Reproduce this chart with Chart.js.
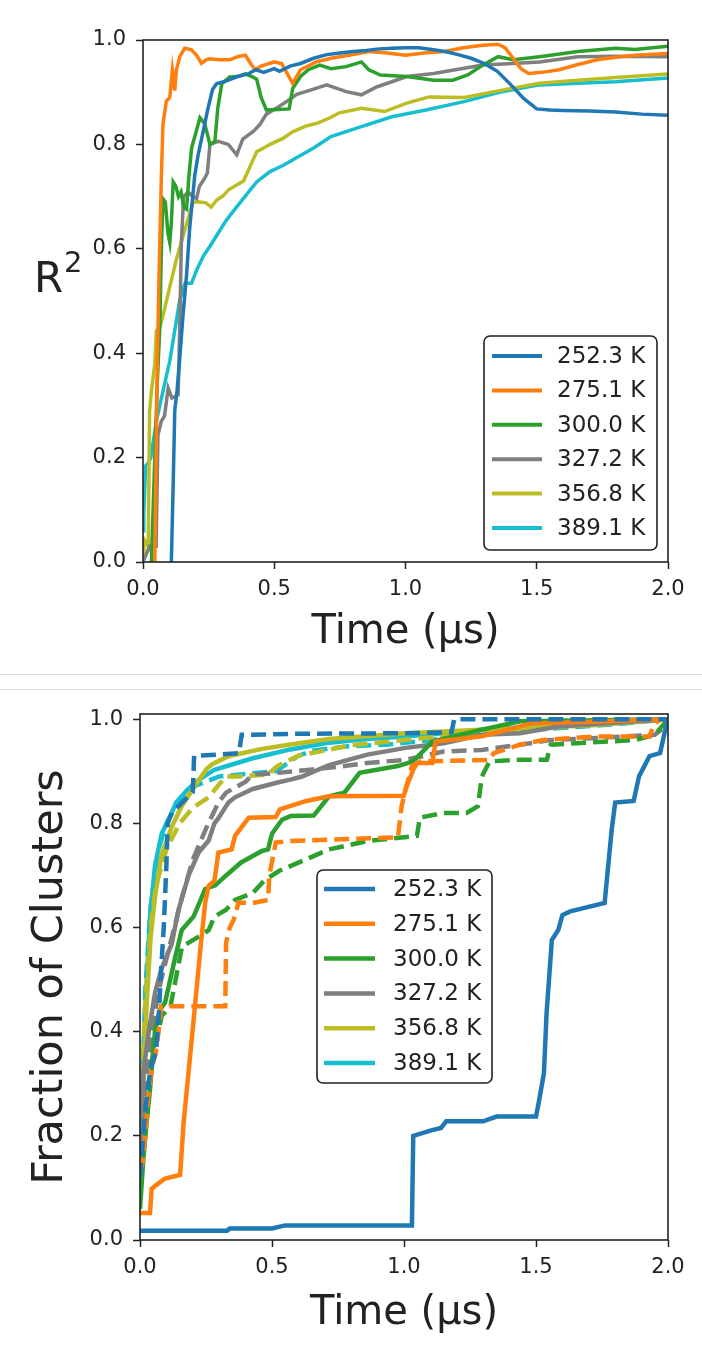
<!DOCTYPE html>
<html>
<head>
<meta charset="utf-8">
<script src="https://cdn.jsdelivr.net/npm/chart.js@4/dist/chart.umd.min.js"></script>
<style>
  body { margin: 0; background: #fff; width: 702px; height: 1350px; overflow: hidden; position: relative; }
  canvas { position: absolute; left: 0; }
  #top { top: 0; }
  #bottom { top: 690px; }
  .sep { position: absolute; left: 0; width: 702px; height: 1px; background: #dcdcdc; }
</style>
</head>
<body>
<canvas id="top" width="702" height="670" style="width:702px;height:670px"></canvas>
<div class="sep" style="top:674px"></div>
<div class="sep" style="top:689px"></div>
<canvas id="bottom" width="702" height="660" style="width:702px;height:660px"></canvas>
<script>
// temperatures, one line per temperature in each panel
var temps = ['252.3 K', '275.1 K', '300.0 K', '327.2 K', '356.8 K', '389.1 K'];
var xTicks = [0, 0.5, 1.0, 1.5, 2.0];
var yTicks = [0, 0.2, 0.4, 0.6, 0.8, 1.0];

// top panel: R^2 vs time, [time (us), R2]
var r2_252 = [[0.108,0],[0.115,0.15],[0.121,0.29],[0.13,0.33],[0.14,0.39],[0.152,0.47],[0.166,0.55],[0.178,0.64],[0.197,0.74],[0.21,0.78],[0.223,0.81],[0.248,0.87],[0.265,0.905],[0.28,0.916],[0.32,0.922],[0.36,0.93],[0.4,0.935],[0.43,0.943],[0.46,0.938],[0.5,0.945],[0.52,0.94],[0.56,0.95],[0.6,0.955],[0.65,0.965],[0.7,0.972],[0.75,0.975],[0.8,0.978],[0.85,0.98],[0.9,0.983],[0.95,0.984],[1.0,0.985],[1.05,0.985],[1.1,0.982],[1.15,0.978],[1.2,0.972],[1.25,0.965],[1.3,0.955],[1.35,0.94],[1.4,0.915],[1.45,0.888],[1.5,0.868],[1.55,0.866],[1.6,0.865],[1.7,0.864],[1.8,0.862],[1.9,0.858],[2.0,0.856]];
var r2_275 = [[0.045,0],[0.05,0.2],[0.055,0.4],[0.061,0.547],[0.07,0.74],[0.076,0.838],[0.089,0.883],[0.102,0.89],[0.112,0.942],[0.121,0.903],[0.127,0.942],[0.14,0.968],[0.159,0.984],[0.185,0.981],[0.205,0.97],[0.223,0.955],[0.24,0.962],[0.255,0.964],[0.29,0.962],[0.33,0.962],[0.36,0.968],[0.39,0.971],[0.41,0.955],[0.427,0.943],[0.45,0.95],[0.5,0.958],[0.528,0.955],[0.55,0.935],[0.57,0.917],[0.6,0.943],[0.66,0.958],[0.716,0.965],[0.8,0.972],[0.86,0.978],[0.93,0.975],[1.0,0.971],[1.07,0.975],[1.15,0.978],[1.22,0.985],[1.295,0.99],[1.353,0.992],[1.38,0.985],[1.41,0.965],[1.44,0.945],[1.469,0.936],[1.52,0.938],[1.585,0.943],[1.65,0.952],[1.73,0.962],[1.8,0.967],[1.874,0.971],[2.0,0.974]];
var r2_300 = [[0.032,0],[0.045,0.2],[0.055,0.35],[0.064,0.45],[0.07,0.6],[0.076,0.696],[0.085,0.69],[0.095,0.63],[0.102,0.612],[0.108,0.65],[0.115,0.728],[0.125,0.72],[0.135,0.7],[0.145,0.709],[0.155,0.68],[0.166,0.676],[0.175,0.74],[0.185,0.793],[0.2,0.82],[0.217,0.851],[0.235,0.84],[0.255,0.8],[0.274,0.806],[0.285,0.87],[0.3,0.916],[0.33,0.929],[0.36,0.93],[0.39,0.935],[0.415,0.93],[0.433,0.925],[0.45,0.89],[0.47,0.866],[0.514,0.867],[0.557,0.868],[0.57,0.907],[0.6,0.93],[0.63,0.943],[0.673,0.952],[0.716,0.945],[0.774,0.949],[0.832,0.958],[0.86,0.943],[0.904,0.933],[1.005,0.93],[1.107,0.923],[1.18,0.923],[1.237,0.933],[1.295,0.952],[1.353,0.968],[1.41,0.962],[1.51,0.968],[1.657,0.978],[1.8,0.984],[1.874,0.982],[2.0,0.988]];
var r2_327 = [[0.0,0.0],[0.025,0.03],[0.05,0.03],[0.057,0.243],[0.07,0.27],[0.082,0.28],[0.096,0.333],[0.11,0.314],[0.134,0.32],[0.14,0.45],[0.146,0.61],[0.155,0.70],[0.172,0.709],[0.19,0.70],[0.204,0.696],[0.215,0.72],[0.235,0.735],[0.245,0.745],[0.255,0.80],[0.287,0.806],[0.325,0.80],[0.357,0.78],[0.38,0.81],[0.42,0.825],[0.445,0.838],[0.47,0.858],[0.51,0.87],[0.55,0.883],[0.586,0.896],[0.65,0.906],[0.7,0.914],[0.774,0.901],[0.832,0.895],[0.89,0.91],[0.948,0.92],[1.005,0.93],[1.107,0.936],[1.223,0.946],[1.295,0.952],[1.41,0.955],[1.51,0.958],[1.657,0.968],[1.8,0.969],[2.0,0.968]];
var r2_357 = [[0.0,0.0],[0.006,0.042],[0.02,0.03],[0.025,0.288],[0.032,0.327],[0.045,0.38],[0.051,0.443],[0.065,0.45],[0.08,0.48],[0.102,0.527],[0.127,0.579],[0.153,0.625],[0.19,0.689],[0.21,0.69],[0.24,0.688],[0.26,0.68],[0.28,0.693],[0.306,0.702],[0.326,0.713],[0.357,0.722],[0.383,0.73],[0.41,0.76],[0.433,0.786],[0.47,0.796],[0.484,0.80],[0.535,0.812],[0.57,0.824],[0.62,0.835],[0.66,0.84],[0.713,0.851],[0.745,0.86],[0.832,0.869],[0.92,0.863],[1.005,0.879],[1.09,0.891],[1.223,0.89],[1.368,0.904],[1.51,0.917],[1.657,0.923],[1.8,0.928],[2.0,0.935]];
var r2_389 = [[0.0,0.06],[0.003,0.094],[0.01,0.184],[0.02,0.19],[0.03,0.2],[0.051,0.27],[0.076,0.327],[0.102,0.385],[0.14,0.502],[0.16,0.534],[0.185,0.534],[0.205,0.56],[0.23,0.586],[0.255,0.605],[0.28,0.625],[0.311,0.65],[0.33,0.663],[0.382,0.696],[0.433,0.728],[0.484,0.748],[0.535,0.76],[0.586,0.775],[0.65,0.793],[0.716,0.815],[0.832,0.834],[0.948,0.853],[1.078,0.866],[1.223,0.882],[1.368,0.901],[1.51,0.914],[1.657,0.917],[1.8,0.92],[2.0,0.927]];

// bottom panel: fraction of clusters vs time, solid and dashed per temperature
var fc_252 = [[0,0.018],[0.33,0.018],[0.34,0.022],[0.5,0.022],[0.55,0.028],[1.03,0.028],[1.035,0.2],[1.1,0.21],[1.14,0.215],[1.16,0.228],[1.3,0.228],[1.35,0.237],[1.5,0.237],[1.51,0.263],[1.53,0.32],[1.54,0.435],[1.56,0.576],[1.585,0.596],[1.6,0.624],[1.63,0.631],[1.76,0.647],[1.765,0.674],[1.787,0.789],[1.8,0.84],[1.87,0.843],[1.89,0.89],[1.93,0.929],[1.97,0.935],[1.99,0.98],[2.0,1.0]];
var fc_252d = [[0,0.12],[0.02,0.25],[0.04,0.33],[0.06,0.36],[0.07,0.42],[0.08,0.52],[0.09,0.6],[0.1,0.72],[0.105,0.8],[0.12,0.82],[0.15,0.835],[0.18,0.85],[0.2,0.86],[0.205,0.93],[0.3,0.932],[0.375,0.935],[0.385,0.97],[0.6,0.972],[1.0,0.973],[1.18,0.975],[1.19,1.0],[2.0,1.0]];
var fc_275 = [[0,0.052],[0.038,0.052],[0.044,0.098],[0.06,0.105],[0.095,0.118],[0.152,0.125],[0.165,0.224],[0.184,0.323],[0.203,0.422],[0.228,0.555],[0.247,0.648],[0.26,0.68],[0.282,0.69],[0.297,0.744],[0.347,0.75],[0.36,0.776],[0.412,0.811],[0.514,0.812],[0.53,0.827],[0.63,0.843],[0.716,0.852],[0.999,0.853],[1.006,0.865],[1.035,0.903],[1.05,0.916],[1.107,0.916],[1.12,0.957],[1.295,0.967],[1.483,0.992],[1.7,0.995],[2.0,1.0]];
var fc_275d = [[0,0.13],[0.01,0.15],[0.02,0.2],[0.03,0.27],[0.045,0.33],[0.06,0.36],[0.075,0.42],[0.08,0.449],[0.323,0.449],[0.326,0.57],[0.34,0.6],[0.355,0.615],[0.373,0.648],[0.427,0.647],[0.485,0.653],[0.49,0.7],[0.514,0.763],[0.57,0.766],[0.977,0.773],[0.991,0.833],[1.006,0.865],[1.03,0.91],[1.064,0.919],[1.324,0.922],[1.34,0.935],[1.44,0.951],[1.527,0.96],[1.73,0.967],[1.93,0.967],[1.946,0.989],[1.97,1.0],[2.0,1.0]];
var fc_300 = [[0,0.06],[0.013,0.158],[0.025,0.224],[0.038,0.29],[0.057,0.403],[0.076,0.442],[0.095,0.456],[0.133,0.542],[0.158,0.595],[0.203,0.621],[0.247,0.674],[0.285,0.681],[0.326,0.70],[0.383,0.725],[0.462,0.747],[0.485,0.75],[0.5,0.78],[0.538,0.807],[0.57,0.814],[0.658,0.815],[0.716,0.852],[0.774,0.859],[0.832,0.897],[0.977,0.91],[1.035,0.919],[1.107,0.957],[1.295,0.98],[1.44,0.996],[2.0,1.0]];
var fc_300d = [[0,0.12],[0.01,0.16],[0.02,0.22],[0.03,0.29],[0.05,0.36],[0.07,0.4],[0.082,0.43],[0.1,0.44],[0.116,0.45],[0.13,0.487],[0.159,0.563],[0.224,0.583],[0.26,0.595],[0.282,0.621],[0.326,0.634],[0.36,0.653],[0.427,0.666],[0.47,0.69],[0.528,0.709],[0.63,0.731],[0.716,0.75],[0.861,0.766],[1.049,0.776],[1.06,0.811],[1.15,0.82],[1.237,0.82],[1.28,0.833],[1.295,0.89],[1.324,0.919],[1.44,0.922],[1.541,0.922],[1.556,0.951],[1.874,0.96],[1.95,0.97],[2.0,1.0]];
var fc_327 = [[0,0.2],[0.013,0.323],[0.032,0.396],[0.057,0.475],[0.082,0.522],[0.12,0.568],[0.146,0.634],[0.184,0.7],[0.222,0.744],[0.26,0.767],[0.282,0.8],[0.297,0.81],[0.335,0.84],[0.36,0.85],[0.427,0.866],[0.525,0.879],[0.57,0.884],[0.614,0.89],[0.716,0.912],[0.861,0.932],[1.006,0.945],[1.15,0.954],[1.295,0.97],[1.44,0.973],[1.585,0.986],[2.0,1.0]];
var fc_327d = [[0,0.15],[0.02,0.3],[0.05,0.42],[0.08,0.5],[0.12,0.58],[0.16,0.66],[0.2,0.73],[0.25,0.79],[0.297,0.84],[0.326,0.859],[0.4,0.88],[0.427,0.894],[0.5,0.896],[0.644,0.903],[0.774,0.91],[0.861,0.916],[1.006,0.922],[1.15,0.938],[1.295,0.941],[1.44,0.951],[1.556,0.96],[1.73,0.964],[1.95,0.97],[2.0,0.99]];
var fc_357 = [[0,0.2],[0.013,0.3],[0.025,0.45],[0.04,0.58],[0.057,0.66],[0.082,0.74],[0.12,0.793],[0.158,0.833],[0.209,0.873],[0.253,0.905],[0.272,0.913],[0.335,0.929],[0.462,0.943],[0.589,0.953],[0.716,0.962],[1.006,0.973],[1.295,0.98],[1.73,0.989],[2.0,1.0]];
var fc_357d = [[0,0.18],[0.02,0.45],[0.04,0.6],[0.06,0.68],[0.1,0.75],[0.15,0.8],[0.2,0.83],[0.26,0.85],[0.3,0.875],[0.326,0.89],[0.37,0.89],[0.485,0.894],[0.52,0.91],[0.6,0.93],[0.8,0.95],[1.0,0.96],[1.3,0.975],[1.6,0.985],[2.0,1.0]];
var fc_389 = [[0,0.1],[0.004,0.158],[0.013,0.356],[0.025,0.489],[0.038,0.621],[0.057,0.72],[0.082,0.78],[0.12,0.82],[0.137,0.84],[0.18,0.865],[0.224,0.884],[0.282,0.903],[0.427,0.925],[0.57,0.942],[0.716,0.955],[0.861,0.962],[1.006,0.967],[1.15,0.973],[1.295,0.98],[1.585,0.989],[2.0,1.0]];
var fc_389d = [[0,0.08],[0.01,0.3],[0.02,0.48],[0.04,0.64],[0.07,0.75],[0.1,0.8],[0.15,0.845],[0.2,0.87],[0.25,0.88],[0.3,0.89],[0.4,0.895],[0.514,0.9],[0.543,0.91],[0.6,0.93],[0.658,0.94],[0.789,0.948],[0.933,0.951],[1.107,0.96],[1.194,0.967],[1.5,0.98],[1.8,0.99],[2.0,1.0]];

var r2Series = [r2_252, r2_275, r2_300, r2_327, r2_357, r2_389];
var fcSolid = [fc_252, fc_275, fc_300, fc_327, fc_357, fc_389];
var fcDashed = [fc_252d, fc_275d, fc_300d, fc_327d, fc_357d, fc_389d];

var colors = ['#1f77b4', '#ff7f0e', '#2ca02c', '#7f7f7f', '#bcbd22', '#17becf'];
var FONT = 'DejaVu Sans';
var INK = '#222';

// full box around the plot area, like matplotlib spines
var framePlugin = {
  id: 'frame',
  afterDatasetsDraw: function(chart) {
    var a = chart.chartArea, ctx = chart.ctx;
    ctx.save();
    ctx.strokeStyle = INK;
    ctx.lineWidth = 1.6;
    ctx.strokeRect(a.left, a.top, a.right - a.left, a.bottom - a.top);
    ctx.restore();
  }
};

// legend box drawn inside the plot area
var boxLegend = {
  id: 'boxLegend',
  afterDatasetsDraw: function(chart, args, o) {
    if (!o || !o.w) return;
    var ctx = chart.ctx;
    ctx.save();
    ctx.beginPath();
    ctx.roundRect(o.x, o.y, o.w, o.h, 6);
    ctx.fillStyle = '#fff';
    ctx.fill();
    ctx.strokeStyle = INK;
    ctx.lineWidth = 1.6;
    ctx.stroke();
    ctx.font = o.size + 'px "' + FONT + '"';
    ctx.textBaseline = 'middle';
    ctx.textAlign = 'left';
    temps.forEach(function(t, i) {
      var y = o.row0 + i * o.step;
      ctx.beginPath();
      ctx.moveTo(o.line0, y);
      ctx.lineTo(o.line1, y);
      ctx.strokeStyle = colors[i];
      ctx.lineWidth = o.lw;
      ctx.stroke();
      ctx.fillStyle = INK;
      ctx.fillText(t, o.textX, y + 1);
    });
    ctx.restore();
  }
};

// horizontal R^2 label for the top panel
var r2Label = {
  id: 'r2Label',
  afterDraw: function(chart, args, o) {
    if (!o || !o.show) return;
    var ctx = chart.ctx;
    ctx.save();
    ctx.fillStyle = INK;
    ctx.textBaseline = 'alphabetic';
    ctx.font = '42px "' + FONT + '"';
    ctx.fillText('R', 34, 292);
    ctx.font = '29px "' + FONT + '"';
    ctx.fillText('2', 64, 272);
    ctx.restore();
  }
};

function scales(yMax, yTitle, yWidth, xHeight, xTitlePad) {
  return {
    x: {
      type: 'linear', min: 0, max: 2,
      afterBuildTicks: function(s) { s.ticks = xTicks.map(function(v) { return {value: v}; }); },
      afterFit: function(s) { s.height = xHeight; },
      grid: { drawOnChartArea: false, tickLength: 7, tickColor: INK, tickWidth: 1.5 },
      border: { display: false },
      ticks: { autoSkip: false, maxRotation: 0, padding: 8, color: INK, font: { family: FONT, size: 21 },
        callback: function(v) { return v.toFixed(1); } },
      title: { display: true, text: 'Time (µs)', color: INK, font: { family: FONT, size: 40 }, padding: { top: 0, bottom: xTitlePad } }
    },
    y: {
      type: 'linear', min: 0, max: yMax,
      afterBuildTicks: function(s) { s.ticks = yTicks.map(function(v) { return {value: v}; }); },
      afterFit: function(s) { s.width = yWidth; },
      grid: { drawOnChartArea: false, tickLength: 7, tickColor: INK, tickWidth: 1.5 },
      border: { display: false },
      ticks: { autoSkip: false, padding: 10, color: INK, font: { family: FONT, size: 21 },
        callback: function(v) { return v.toFixed(1); } },
      title: { display: !!yTitle, text: yTitle, color: INK, font: { family: FONT, size: 43 }, padding: { top: 25, bottom: 0 } }
    }
  };
}

var topSets = r2Series.map(function(d, i) {
  return { label: temps[i], data: d, borderColor: colors[i], borderWidth: 3.5, pointRadius: 0, tension: 0, fill: false };
});

new Chart(document.getElementById('top'), {
  type: 'line',
  data: { datasets: topSets },
  options: {
    responsive: false, animation: false, events: [],
    layout: { padding: { left: 0, right: 34, top: 40, bottom: 0 } },
    scales: scales(1.0, '', 143, 108, 13),
    plugins: {
      legend: { display: false }, tooltip: { enabled: false },
      boxLegend: { x: 484, y: 336, w: 173, h: 214, row0: 356, step: 34.4, line0: 492, line1: 542, textX: 557, size: 23, lw: 4 },
      r2Label: { show: true }
    }
  },
  plugins: [framePlugin, boxLegend, r2Label]
});

var bottomSets = [];
fcSolid.forEach(function(d, i) {
  bottomSets.push({ label: temps[i], data: d, borderColor: colors[i], borderWidth: 4.5, pointRadius: 0, tension: 0, fill: false });
  bottomSets.push({ label: temps[i] + ' dashed', data: fcDashed[i], borderColor: colors[i], borderWidth: 4.5, borderDash: [15, 7], pointRadius: 0, tension: 0, fill: false });
});

new Chart(document.getElementById('bottom'), {
  type: 'line',
  data: { datasets: bottomSets },
  options: {
    responsive: false, animation: false, events: [],
    layout: { padding: { left: 0, right: 34, top: 24, bottom: 0 } },
    scales: scales(1.01, 'Fraction of Clusters', 140, 110, 12),
    plugins: {
      legend: { display: false }, tooltip: { enabled: false },
      boxLegend: { x: 317, y: 180, w: 175, h: 213, row0: 199, step: 34.8, line0: 324, line1: 375, textX: 393, size: 23, lw: 4.5 }
    }
  },
  plugins: [framePlugin, boxLegend]
});
</script>
</body>
</html>
